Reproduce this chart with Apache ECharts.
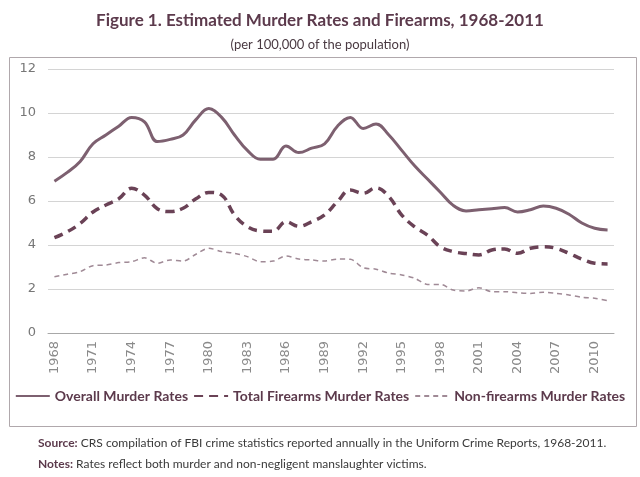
<!DOCTYPE html>
<html>
<head>
<meta charset="utf-8">
<script src="https://cdn.jsdelivr.net/npm/echarts@6/dist/echarts.min.js"></script>
<style>
  html, body { margin: 0; padding: 0; background: #fff; }
  #chart { width: 640px; height: 477px; }
</style>
</head>
<body>
<div id="chart"></div>
<script>
// data (rate per 100,000)
var years = [];
for (var y = 1968; y <= 2011; y++) years.push(String(y));

var overall = [6.9, 7.3, 7.8, 8.6, 9.0, 9.4, 9.8, 9.6, 8.7, 8.8, 9.0, 9.7,
  10.2, 9.8, 9.0, 8.3, 7.9, 7.9, 8.5, 8.2, 8.4, 8.6, 9.4, 9.8, 9.3, 9.5,
  9.0, 8.3, 7.6, 7.0, 6.4, 5.8, 5.55, 5.6, 5.65, 5.7, 5.5, 5.6, 5.77,
  5.67, 5.4, 5.0, 4.76, 4.68];

var firearms = [4.33, 4.6, 4.98, 5.5, 5.82, 6.1, 6.58, 6.27, 5.65, 5.52,
  5.67, 6.1, 6.39, 6.27, 5.36, 4.83, 4.64, 4.62, 5.06, 4.85, 5.06, 5.37,
  5.97, 6.5, 6.35, 6.6, 6.2, 5.36, 4.83, 4.45, 3.92, 3.7, 3.61, 3.55,
  3.77, 3.82, 3.62, 3.85, 3.92, 3.85, 3.62, 3.36, 3.17, 3.14];

var nonFirearms = [2.56, 2.67, 2.79, 3.06, 3.09, 3.2, 3.24, 3.42, 3.17,
  3.32, 3.27, 3.58, 3.85, 3.7, 3.62, 3.47, 3.24, 3.27, 3.5, 3.36, 3.32,
  3.27, 3.36, 3.35, 2.97, 2.9, 2.72, 2.64, 2.49, 2.21, 2.21, 1.95, 1.91,
  2.06, 1.88, 1.88, 1.83, 1.8, 1.85, 1.8, 1.73, 1.62, 1.58, 1.47];

var yTicks = [0, 2, 4, 6, 8, 10, 12];

var maroon = '#5c3a4c';

var myChart = echarts.init(document.getElementById('chart'));
var option = {
  backgroundColor: '#fff',
  textStyle: { fontFamily: 'Lato' },
  title: [{
    text: 'Figure 1. Estimated Murder Rates and Firearms, 1968-2011',
    left: 'center',
    top: 7,
    textStyle: { fontSize: 17, fontWeight: 'bold', color: maroon, fontFamily: 'Lato' }
  }, {
    text: '(per 100,000 of the population)',
    left: 'center',
    top: 33,
    textStyle: { fontSize: 13, fontWeight: 'normal', color: '#4a3a42', fontFamily: 'Lato' }
  }, {
    text: '{b|Source:} CRS compilation of FBI crime statistics reported annually in the Uniform Crime Reports, 1968-2011.',
    left: 33,
    top: 432,
    textStyle: {
      fontSize: 12, fontWeight: 'normal', color: '#3a3a3a', fontFamily: 'Lato',
      rich: { b: { fontWeight: 'bold', color: maroon, fontSize: 12, fontFamily: 'Lato' } }
    }
  }, {
    text: '{b|Notes:} Rates reflect both murder and non-negligent manslaughter victims.',
    left: 33,
    top: 453,
    textStyle: {
      fontSize: 12, fontWeight: 'normal', color: '#3a3a3a', fontFamily: 'Lato',
      rich: { b: { fontWeight: 'bold', color: maroon, fontSize: 12, fontFamily: 'Lato' } }
    }
  }],
  graphic: [{
    type: 'rect',
    shape: { x: 9.5, y: 57.5, width: 627, height: 369 },
    style: { fill: 'none', stroke: '#b0a8ac', lineWidth: 1 },
    silent: true
  }],
  legend: {
    top: 384,
    left: 'center',
    itemWidth: 34,
    itemHeight: 8,
    itemGap: 5,
    itemStyle: { opacity: 0 },
    textStyle: { fontSize: 14, fontWeight: 'bold', color: maroon, fontFamily: 'Lato' },
    data: ['Overall Murder Rates', 'Total Firearms Murder Rates', 'Non-firearms Murder Rates']
  },
  grid: { left: 48, right: 26, top: 69, bottom: 144 },
  xAxis: {
    type: 'category',
    data: years,
    boundaryGap: true,
    axisLine: { lineStyle: { color: '#a8a8a8' } },
    axisTick: { interval: 0, length: 4, lineStyle: { color: '#a8a8a8' } },
    axisLabel: { interval: 2, rotate: 90, color: '#8a8a8a', fontSize: 13, margin: 8, fontFamily: 'DejaVu Sans' }
  },
  yAxis: {
    type: 'value',
    min: 0,
    max: 12,
    interval: 2,
    axisLine: { show: false },
    axisTick: { show: false },
    axisLabel: {
      color: '#777', fontSize: 13, margin: 12, fontFamily: 'DejaVu Sans',
      formatter: function (v) { return yTicks.indexOf(v) >= 0 ? String(v) : ''; }
    },
    splitLine: { lineStyle: { color: '#d4d4d4' } }
  },
  series: [{
    name: 'Overall Murder Rates',
    type: 'line',
    data: overall,
    smooth: 0.4,
    symbol: 'none',
    lineStyle: { color: '#7d6070', width: 3 },
    itemStyle: { color: '#7d6070' }
  }, {
    name: 'Total Firearms Murder Rates',
    type: 'line',
    data: firearms,
    smooth: 0.4,
    symbol: 'none',
    lineStyle: { color: '#6a4256', width: 3.5, type: [9, 6] },
    itemStyle: { color: '#6a4256' }
  }, {
    name: 'Non-firearms Murder Rates',
    type: 'line',
    data: nonFirearms,
    smooth: 0.3,
    symbol: 'none',
    lineStyle: { color: '#a08a96', width: 1.5, type: [5, 4] },
    itemStyle: { color: '#a08a96' }
  }]
};
myChart.setOption(option);
</script>
</body>
</html>
